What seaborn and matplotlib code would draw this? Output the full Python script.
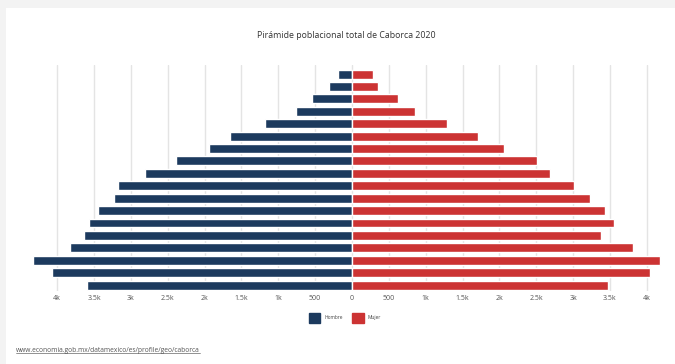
import matplotlib
matplotlib.use("Agg")
import matplotlib.pyplot as plt
from matplotlib.patches import Patch, Rectangle
from matplotlib.ticker import FuncFormatter, FixedLocator
import seaborn as sns
import pandas as pd

age_groups = ["85+", "80-84", "75-79", "70-74", "65-69", "60-64", "55-59", "50-54",
              "45-49", "40-44", "35-39", "30-34", "25-29", "20-24", "15-19", "10-14",
              "5-9", "0-4"]
hombre = [190, 312, 543, 761, 1182, 1658, 1943, 2391, 2812, 3179, 3234, 3451,
          3573, 3641, 3832, 4334, 4076, 3600]
mujer = [290, 358, 621, 856, 1287, 1712, 2061, 2514, 2681, 3016, 3225, 3438,
         3551, 3383, 3813, 4185, 4049, 3474]
series = ["Hombre", "Mujer"]
colors = {"Hombre": "#1c3a5e", "Mujer": "#cc3333"}
tick_values = [-4000, -3500, -3000, -2500, -2000, -1500, -1000, -500, 0,
               500, 1000, 1500, 2000, 2500, 3000, 3500, 4000]
title = "Pirámide poblacional total de Caborca 2020"
source = "www.economia.gob.mx/datamexico/es/profile/geo/caborca"

df = pd.concat([
    pd.DataFrame({"edad": age_groups, "sexo": "Hombre", "valor": [-v for v in hombre]}),
    pd.DataFrame({"edad": age_groups, "sexo": "Mujer", "valor": mujer}),
])

sns.set_theme(style="white")
plt.rcParams["font.family"] = ["Open Sans", "DejaVu Sans"]

W, H = 675, 364
fig = plt.figure(figsize=(W / 100, H / 100), dpi=100)
fig.patch.set_facecolor("#f3f3f3")
fig.add_artist(Rectangle((6 / W, 0), 1, 1 - 8 / H, transform=fig.transFigure,
                         facecolor="white", edgecolor="none", zorder=-10))

ax_l, ax_r, ax_t, ax_b = 20, 670, 65, 291
ax = fig.add_axes([ax_l / W, 1 - ax_b / H, (ax_r - ax_l) / W, (ax_b - ax_t) / H])
ax.patch.set_alpha(0)

sns.barplot(data=df, x="valor", y="edad", hue="sexo", order=age_groups,
            hue_order=series, palette=colors, dodge=False, orient="h",
            width=0.72, ax=ax, legend=False, saturation=1)

kpp = 1000 / 73.7
ax.set_xlim(-(352 - ax_l) * kpp, (ax_r - 352) * kpp)
ax.set_ylim(17.48, -0.73)
ax.xaxis.set_major_locator(FixedLocator(tick_values))

def fmt(v, pos):
    v = abs(v)
    if v < 1000:
        return f"{v:.0f}"
    return f"{v / 1000:g}k"

ax.xaxis.set_major_formatter(FuncFormatter(fmt))
ax.tick_params(axis="x", labelsize=5, colors="#555555", length=0, pad=3)
ax.set_yticks([])
ax.set_xlabel("")
ax.set_ylabel("")
ax.grid(axis="x", color="#e4e4e4", linewidth=1.0)
ax.set_axisbelow(True)
for s in ax.spines.values():
    s.set_visible(False)

fig.text(346 / W, 1 - 35 / H, title, ha="center", va="center", fontsize=6.3,
         color="#333333")

handles = [Patch(facecolor=colors[s], edgecolor=colors[s], label=s) for s in series]
fig.legend(handles=handles, loc="center", bbox_to_anchor=(345 / W, 1 - 318 / H),
           ncol=2, frameon=False, fontsize=3.5, handlelength=2.4, handleheight=2.9,
           columnspacing=2.0, handletextpad=0.8, labelcolor="#444444")

t = fig.text(16 / W, 1 - 350 / H, source, ha="left", va="center", fontsize=4.8,
             color="#555555")
fig.canvas.draw()
bb = t.get_window_extent()
fig.add_artist(plt.Line2D([bb.x0 / fig.bbox.width, bb.x1 / fig.bbox.width],
                          [(bb.y0 + 1.0) / fig.bbox.height] * 2,
                          transform=fig.transFigure, color="#666666", linewidth=0.5))

fig.savefig("out.png", dpi=100, facecolor=fig.get_facecolor())
